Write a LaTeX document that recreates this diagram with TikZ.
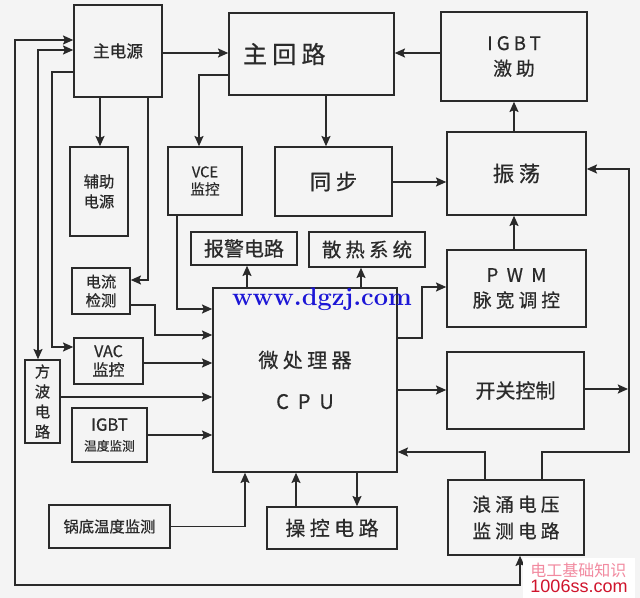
\documentclass[tikz,border=0pt]{standalone}
\usepackage{fontspec}
\usepackage{tikz}
\usetikzlibrary{arrows.meta}
\newfontfamily\cjk[FakeBold=0.6]{Noto Sans CJK SC}
\newfontfamily\cjkw[LetterSpace=22, FakeBold=0.6]{Noto Sans CJK SC}
\newfontfamily\wmcjk{Noto Sans CJK SC}
\newfontfamily\urlfont{Liberation Sans}
\newcommand{\fsz}[2]{\fontsize{#1}{#2}\selectfont}
\definecolor{ink}{HTML}{2A2A2A}
\definecolor{paper}{HTML}{F4F4F4}
\definecolor{wmblue}{HTML}{1C16D6}
\definecolor{wmred}{HTML}{D0142C}
\definecolor{wmpink}{HTML}{F28AA0}
\tikzset{blk/.style={draw=ink, line width=1.2pt, text=ink, align=center, inner sep=0pt},sz/.style 2 args={minimum width=#1*0.75pt, minimum height=#2*0.75pt},arr/.style={draw=ink, line width=1.1pt, -{Stealth[length=2.7mm, width=2.4mm, inset=0.5mm]}},darr/.style={draw=ink, line width=1.1pt, {Stealth[length=2.7mm, width=2.4mm, inset=0.5mm]}-{Stealth[length=2.7mm, width=2.4mm, inset=0.5mm]}}}

\begin{document}
\begin{tikzpicture}[x=0.75pt, y=-0.75pt]
  \fill[paper] (0,0) rectangle (640,598);
  \useasboundingbox (0,0) rectangle (640,598);

  % power and main circuit
  \node[blk, sz={88}{92}, font=\cjk\fsz{12.5}{15}] (psu) at (118,51) {主电源};
  \node[blk, sz={165}{82}, font=\cjkw\fsz{18}{22}, text width=137*0.75pt, align=left] (maincir) at (311.5,54) {主回路};
  \node[blk, sz={146}{89}, font=\cjkw\fsz{14}{19}] (igbtdrv) at (514,56.5) {IGBT\\激助};
  \node[blk, sz={58}{89}, font=\cjk\fsz{11.5}{15}] (auxpsu) at (99,191.5) {辅助\\电源};
  \node[blk, sz={74}{68}, font=\cjk\fsz{11}{13}] (vce) at (205,181) {VCE\\监控};
  \node[blk, sz={117}{69}, font=\cjkw\fsz{16}{18}] (sync) at (333.5,181.5) {同步};
  \node[blk, sz={139}{83}, font=\cjkw\fsz{16}{18}] (osc) at (516.5,173.5) {振荡};

  % processor and peripherals
  \node[blk, sz={106}{33}, font=\cjk\fsz{15}{17}] (alarm) at (244,248.5) {报警电路};
  \node[blk, sz={116}{35}, font=\cjkw\fsz{14.5}{17}] (cool) at (367,249.5) {散热系统};
  \node[blk, sz={139}{77}, font=\cjkw\fsz{14}{19}] (pwm) at (516.5,288.5) {P W M\\脉宽调控};
  \node[blk, sz={137}{77}, font=\cjk\fsz{15}{17}] (swctl) at (515.5,390.5) {开关控制};
  \node[blk, sz={184}{184}, font=\cjkw\fsz{15}{31}] (cpu) at (305,380) {微处理器\\C P U};
  \node[blk, sz={58}{46}, font=\cjk\fsz{11.5}{14}] (idet) at (101,291) {电流\\检测};
  \node[blk, sz={69}{46}, font=\cjk\fsz{12}{14}] (vac) at (108.5,361) {VAC\\监控};
  \node[blk, sz={35}{83}, font=\cjk\fsz{11.5}{15}] (sqw) at (42.5,401.5) {方\\波\\电\\路};
  \node[blk, sz={75}{54}, font=\cjk\fsz{12.5}{15}] (itemp) at (109.5,435) {IGBT\\{\fsz{9.5}{12}温度监测}};
  \node[blk, sz={121}{43}, font=\cjk\fsz{11.5}{14}] (ptemp) at (109.5,526.5) {锅底温度监测};
  \node[blk, sz={130}{42}, font=\cjkw\fsz{15}{17}] (panel) at (332,528) {操控电路};
  \node[blk, sz={136}{75}, font=\cjkw\fsz{14}{20}] (surge) at (516,517.5) {浪涌电压\\监测电路};

  % top part
  \draw[arr] (psu.east |- 0,53) -- (maincir.west |- 0,53);
  \draw[arr] (igbtdrv.west |- 0,53) -- (maincir.east |- 0,53);
  \draw[arr] (maincir.west |- 0,75) -| (vce.north -| 199,0);
  \draw[arr] (maincir.south -| 326,0) -- (sync.north -| 326,0);
  \draw[arr] (sync.east |- 0,182) -- (osc.west |- 0,182);
  \draw[arr] (osc.north -| 514,0) -- (igbtdrv.south -| 514,0);
  \draw[arr] (pwm.north -| 514,0) -- (osc.south -| 514,0);
  \draw[arr] (psu.south -| 100,0) -- (auxpsu.north -| 100,0);
  \draw[arr] (psu.south -| 148,0) |- (idet.east |- 0,280);

  % left feeds
  \draw[darr] (surge.south -| 520,0) |- (15,585) |- (psu.west |- 0,40);
  \draw[darr] (psu.west |- 0,50) -| (sqw.north -| 38,0);
  \draw[arr] (psu.west |- 0,72) -| (52,347) -- (vac.west |- 0,347);

  % into the cpu
  \draw[arr] (vce.south -| 177,0) |- (cpu.west |- 0,309);
  \draw[arr] (idet.east |- 0,305) -| (155,335) -- (cpu.west |- 0,335);
  \draw[arr] (vac.east |- 0,363) -- (cpu.west |- 0,363);
  \draw[arr] (sqw.east |- 0,397) -- (cpu.west |- 0,397);
  \draw[arr] (itemp.east |- 0,435) -- (cpu.west |- 0,435);
  \draw[arr] (ptemp.east) -| (cpu.south -| 245,0);
  \draw[arr] (panel.north -| 296,0) -- (cpu.south -| 296,0);
  \draw[arr] (surge.north -| 485,0) |- (cpu.east |- 0,452);

  % out of the cpu
  \draw[arr] (cpu.north -| 247,0) -- (alarm.south -| 247,0);
  \draw[arr] (cpu.north -| 361,0) -- (cool.south -| 361,0);
  \draw[arr] (cpu.east |- 0,338) -| (422,287) -- (pwm.west |- 0,287);
  \draw[arr] (cpu.east |- 0,390) -- (swctl.west |- 0,390);
  \draw[arr] (cpu.south -| 357,0) -- (panel.north -| 357,0);

  % right loop
  \coordinate (rbus) at (628,389);
  \draw[arr] (swctl.east |- rbus) -- (rbus);
  \draw[arr] (surge.north -| 542,0) |- (629,452) |- (osc.east |- 0,169);

  % watermarks
  \node[font=\fsz{19}{19}\bfseries, text=wmblue] (wmsite) at (322,299) {www.dgzj.com};
  \node[fill=white, minimum width=112*0.75pt, minimum height=40*0.75pt, inner sep=0pt, align=left] (wmbox) at (579,578)
    {{\wmcjk\fsz{12}{13}\color{wmpink}电工基础知识}\\ {\urlfont\fsz{13.5}{13}\color{wmred}1006ss.com}};
\end{tikzpicture}
\end{document}
